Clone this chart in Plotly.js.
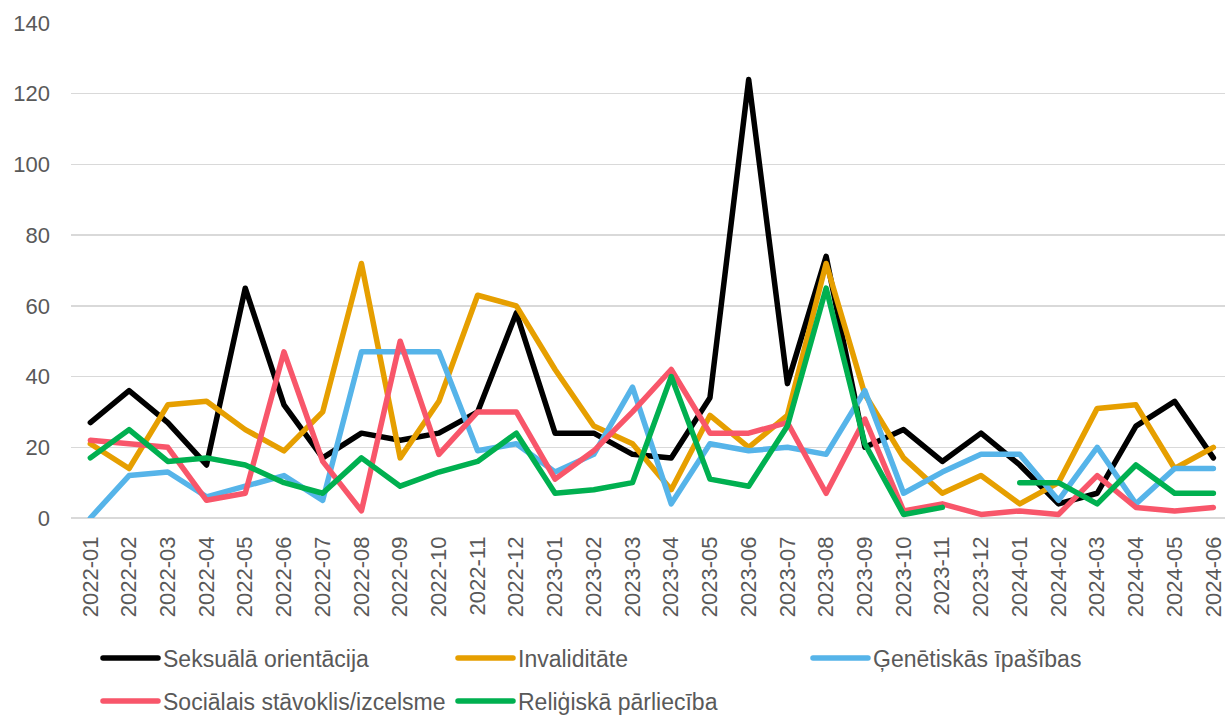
<!DOCTYPE html>
<html>
<head>
<meta charset="utf-8">
<script src="https://cdn.plot.ly/plotly-3.0.1.min.js"></script>
<style>
  body { margin: 0; background: #fff; }
  #chart { width: 1225px; height: 715px; }
  .scatterlayer path.js-line, .legendlines path { stroke-linejoin: round; stroke-linecap: round; }
</style>
</head>
<body>
<div id="chart"></div>
<script>
var months = ['2022-01', '2022-02', '2022-03', '2022-04', '2022-05', '2022-06', '2022-07', '2022-08', '2022-09', '2022-10',
  '2022-11', '2022-12', '2023-01', '2023-02', '2023-03', '2023-04', '2023-05', '2023-06', '2023-07', '2023-08',
  '2023-09', '2023-10', '2023-11', '2023-12', '2024-01', '2024-02', '2024-03', '2024-04', '2024-05', '2024-06'];

var seksuala = [27, 36, 27, 15, 65, 32, 17, 24, 22, 24, 30, 58, 24, 24, 18, 17, 34, 124, 38, 74, 20, 25, 16, 24, 15, 4, 7, 26, 33, 17];
var invaliditate = [21, 14, 32, 33, 25, 19, 30, 72, 17, 33, 63, 60, 42, 26, 21, 8, 29, 20, 29, 72, 35, 17, 7, 12, 4, 10, 31, 32, 14, 20];
var genetiskas = [0, 12, 13, 6, 9, 12, 5, 47, 47, 47, 19, 21, 13, 18, 37, 4, 21, 19, 20, 18, 36, 7, 13, 18, 18, 5, 20, 4, 14, 14];
var socialais = [22, 21, 20, 5, 7, 47, 16, 2, 50, 18, 30, 30, 11, 19, 30, 42, 24, 24, 27, 7, 28, 2, 4, 1, 2, 1, 12, 3, 2, 3];
var religiska = [17, 25, 16, 17, 15, 10, 7, 17, 9, 13, 16, 24, 7, 8, 10, 40, 11, 9, 26, 65, 21, 1, 3, null, 10, 10, 4, 15, 7, 7];

var tickColor = '#595959';
var fontFamily = '"Liberation Sans", Arial, sans-serif';

function line(name, y, color, legend) {
  return {
    x: months,
    y: y,
    name: name,
    type: 'scatter',
    mode: 'lines',
    connectgaps: false,
    cliponaxis: false,
    legend: legend,
    line: { color: color, width: 5.5 }
  };
}

var data = [
  line('Seksuālā orientācija', seksuala, '#000000', 'legend'),
  line('Invaliditāte', invaliditate, '#E69F00', 'legend'),
  line('Ģenētiskās īpašības', genetiskas, '#56B4E9', 'legend'),
  line('Sociālais stāvoklis/izcelsme', socialais, '#F8566A', 'legend2'),
  line('Reliģiskā pārliecība', religiska, '#00B050', 'legend2')
];

var legendBase = {
  orientation: 'h',
  xref: 'container',
  yref: 'container',
  x: 98 / 1225,
  xanchor: 'left',
  yanchor: 'middle',
  itemwidth: 55,
  entrywidth: 285,
  entrywidthmode: 'pixels',
  bgcolor: 'rgba(0,0,0,0)',
  font: { family: fontFamily, size: 23, color: tickColor }
};

var layout = {
  width: 1225,
  height: 715,
  paper_bgcolor: '#ffffff',
  plot_bgcolor: '#ffffff',
  margin: { l: 70.5, r: 0, t: 23.4, b: 196.7, pad: 0 },
  font: { family: fontFamily, size: 22, color: tickColor },
  showlegend: true,
  legend: Object.assign({}, legendBase, { y: 1 - 658 / 715 }),
  legend2: Object.assign({}, legendBase, { y: 1 - 701 / 715 }),
  xaxis: {
    type: 'category',
    range: [-0.5, 29.3],
    tickangle: -90,
    showgrid: false,
    zeroline: false,
    showline: false,
    ticks: '',
    automargin: false,
    ticklabelstandoff: 13,
    tickfont: { family: fontFamily, size: 22, color: tickColor }
  },
  yaxis: {
    range: [0, 140],
    dtick: 20,
    tick0: 0,
    showgrid: true,
    gridcolor: '#d9d9d9',
    gridwidth: 1.5,
    zeroline: true,
    zerolinecolor: '#d9d9d9',
    zerolinewidth: 1.5,
    showline: false,
    ticks: '',
    automargin: false,
    ticklabelstandoff: 20,
    tickfont: { family: fontFamily, size: 22, color: tickColor }
  }
};

Plotly.newPlot('chart', data, layout, { staticPlot: true }).then(function (gd) {
  // longer legend line samples, like the original
  var paths = gd.querySelectorAll('.legendlines path');
  for (var i = 0; i < paths.length; i++) {
    paths[i].setAttribute('d', 'M5,0h55');
  }
});
</script>
</body>
</html>
